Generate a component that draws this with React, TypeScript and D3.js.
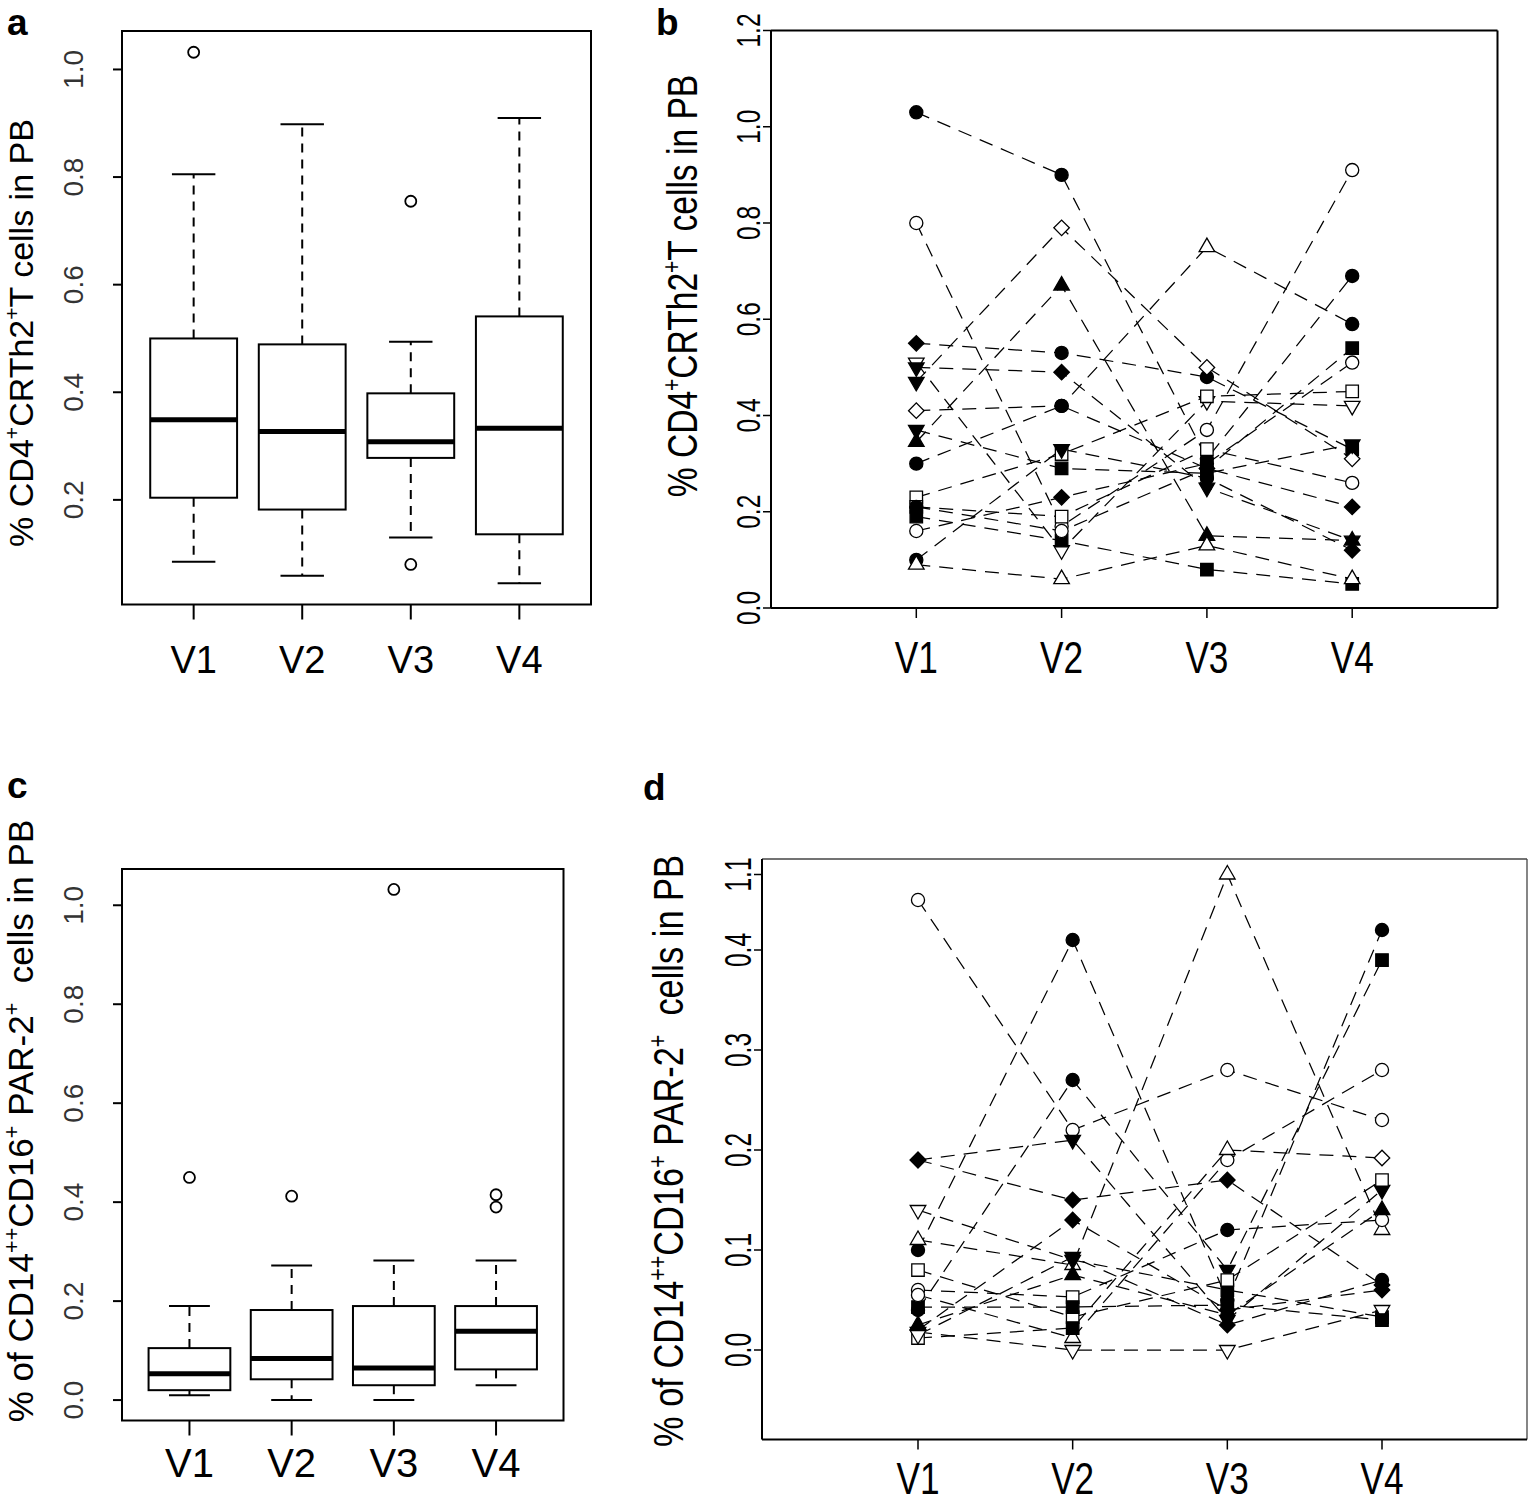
import React from "react";
import * as d3 from "d3";

// ---------------- DATA ----------------
const VISITS = ["V1", "V2", "V3", "V4"];

// Panel a: boxplot statistics (CD4+CRTh2+ T cells)
const aLow = [0.085, 0.059, 0.13, 0.045];
const aQ1 = [0.204, 0.182, 0.278, 0.136];
const aMed = [0.349, 0.327, 0.308, 0.333];
const aQ3 = [0.5, 0.489, 0.398, 0.541];
const aHigh = [0.805, 0.898, 0.494, 0.91];
const aOutliers = [[1.032], [], [0.755, 0.08], []];
const aYTicks = [0.2, 0.4, 0.6, 0.8, 1.0];

// Panel c: boxplot statistics (CD14++CD16+ PAR-2+)
const cLow = [0.01, 0.0, 0.0, 0.03];
const cQ1 = [0.02, 0.042, 0.03, 0.062];
const cMed = [0.053, 0.084, 0.065, 0.139];
const cQ3 = [0.105, 0.182, 0.19, 0.19];
const cHigh = [0.19, 0.272, 0.282, 0.282];
const cOutliers = [[0.45], [0.412], [1.032], [0.415, 0.39]];
const cYTicks = [0.0, 0.2, 0.4, 0.6, 0.8, 1.0];

// Panel b: individual trajectories (value per visit) and marker codes
// marker code: f/o = filled/open ; c circle, s square, d diamond, u triangle up, v triangle down
const bValues: number[][] = [
  [1.03, 0.9, 0.31, 0.69],
  [0.8, 0.17, 0.37, 0.91],
  [0.55, 0.53, 0.48, 0.33],
  [0.51, 0.12, 0.43, 0.42],
  [0.5, 0.49, 0.25, 0.14],
  [0.47, 0.79, 0.5, 0.31],
  [0.41, 0.42, 0.75, 0.59],
  [0.37, 0.29, 0.28, 0.34],
  [0.345, 0.67, 0.15, 0.14],
  [0.3, 0.42, 0.29, 0.21],
  [0.23, 0.32, 0.44, 0.45],
  [0.21, 0.19, 0.33, 0.26],
  [0.19, 0.14, 0.08, 0.05],
  [0.16, 0.23, 0.3, 0.51],
  [0.1, 0.33, 0.27, 0.12],
  [0.09, 0.06, 0.13, 0.06],
  [0.21, 0.16, 0.29, 0.54],
];
const bMarks: string[][] = [
  ["fc", "fc", "fc", "fc"],
  ["oc", "oc", "oc", "oc"],
  ["fd", "fc", "fc", "fs"],
  ["ov", "ov", "ov", "ov"],
  ["fv", "fd", "fv", "fv"],
  ["fv", "od", "od", "od"],
  ["od", "fc", "ou", "fc"],
  ["fv", "fs", "fs", "fv"],
  ["fu", "fu", "fu", "fu"],
  ["fc", "fc", "fd", "fd"],
  ["os", "os", "os", "os"],
  ["os", "os", "os", "oc"],
  ["fs", "fs", "fs", "fs"],
  ["oc", "fd", "fc", "oc"],
  ["fc", "fv", "fc", "fd"],
  ["ou", "ou", "ou", "ou"],
  ["fc", "oc", "fc", "fs"],
];
const bYTicks = [0.0, 0.2, 0.4, 0.6, 0.8, 1.0, 1.2];

// Panel d: individual trajectories
const dValues: number[][] = [
  [0.45, 0.22, 0.28, 0.23],
  [0.1, 0.41, 0.05, 0.42],
  [0.11, 0.085, 1.1, 0.12],
  [0.19, 0.15, 0.17, 0.065],
  [0.19, 0.21, 0.03, 0.16],
  [0.04, 0.27, 0.08, 0.39],
  [0.14, 0.09, 0.06, 0.033],
  [0.02, 0.13, 0.04, 0.06],
  [0.06, 0.053, 0.12, 0.13],
  [0.018, 0.0, 0.0, 0.04],
  [0.08, 0.033, 0.07, 0.17],
  [0.025, 0.075, 0.035, 0.14],
  [0.043, 0.043, 0.045, 0.03],
  [0.055, 0.012, 0.19, 0.28],
  [0.012, 0.022, 0.2, 0.192],
  [0.015, 0.093, 0.025, 0.07],
];
const dMarks: string[][] = [
  ["oc", "oc", "oc", "oc"],
  ["fc", "fc", "fc", "fc"],
  ["ou", "ou", "ou", "ou"],
  ["fd", "fd", "fd", "fd"],
  ["fd", "fv", "fv", "fv"],
  ["fc", "fc", "fv", "fs"],
  ["ov", "fv", "fs", "fs"],
  ["fd", "fd", "fd", "fd"],
  ["oc", "os", "fc", "oc"],
  ["ov", "ov", "ov", "ov"],
  ["os", "os", "os", "os"],
  ["fu", "fu", "fc", "fu"],
  ["fs", "fs", "fs", "fs"],
  ["oc", "ou", "oc", "oc"],
  ["os", "fs", "ou", "od"],
  ["ov", "fv", "fd", "fc"],
];
const dYTicks = [0.0, 0.1, 0.2, 0.3, 0.4, 1.1];

const titleCD4: [string, boolean][] = [
  ["% CD4", false],
  ["+", true],
  ["CRTh2", false],
  ["+", true],
  ["T cells in PB", false],
];
const titleCD14: [string, boolean][] = [
  ["% of CD14", false],
  ["++", true],
  ["CD16", false],
  ["+", true],
  [" PAR-2", false],
  ["+", true],
  ["  cells in PB", false],
];

// ---------------- HELPERS ----------------
const FONT = "'Liberation Sans', Arial, Helvetica, sans-serif";

function TText(props: {
  x: number;
  y: number;
  rot?: number;
  k?: number;
  size: number;
  anchor?: string;
  weight?: string | number;
  fill?: string;
  children: any;
}) {
  const { x, y, rot, k = 1, size, anchor = "middle", weight = "normal", fill = "#000" } = props;
  let t = `translate(${x},${y})`;
  if (rot) t += ` rotate(${rot})`;
  if (k !== 1) t += ` scale(${k},1)`;
  return (
    <text
      transform={t}
      fontSize={size}
      fontFamily={FONT}
      textAnchor={anchor}
      fontWeight={weight}
      fill={fill}
      style={{ whiteSpace: "pre" }}
    >
      {props.children}
    </text>
  );
}

function SupTitle({ segs, size }: { segs: [string, boolean][]; size: number }) {
  const shift = size * 0.4;
  let prevSup = false;
  return (
    <>
      {segs.map(([s, sup], i) => {
        let dy = 0;
        if (sup && !prevSup) dy = -shift;
        if (!sup && prevSup) dy = shift;
        prevSup = sup;
        return (
          <tspan key={i} dy={dy} fontSize={sup ? size * 0.62 : size}>
            {s}
          </tspan>
        );
      })}
    </>
  );
}

function Marker({ code, x, y }: { code: string; x: number; y: number }) {
  const filled = code[0] === "f";
  const shape = code[1];
  let type: any = d3.symbolCircle;
  let size = 135;
  let rot = 0;
  if (shape === "s") {
    type = d3.symbolSquare;
    size = 155;
  } else if (shape === "d") {
    type = d3.symbolSquare;
    size = 120;
    rot = 45;
  } else if (shape === "u") {
    type = d3.symbolTriangle;
    size = 105;
  } else if (shape === "v") {
    type = d3.symbolTriangle;
    size = 105;
    rot = 180;
  }
  const p = d3.symbol().type(type).size(size)() as string;
  return (
    <path
      d={p}
      transform={`translate(${x},${y}) rotate(${rot})`}
      fill={filled ? "#000" : "#fff"}
      stroke="#000"
      strokeWidth={1.3}
    />
  );
}

// ---------------- BOXPLOT PANEL ----------------
function BoxPanel(p: {
  x0: number;
  x1: number;
  y0: number;
  y1: number;
  low: number[];
  q1: number[];
  med: number[];
  q3: number[];
  high: number[];
  outliers: number[][];
  yTicks: number[];
  labelY: number;
  labelSize: number;
}) {
  const all = [...p.low, ...p.high, ...p.outliers.flat()];
  const mn = d3.min(all) as number;
  const mx = d3.max(all) as number;
  const pad = (mx - mn) * 0.04;
  const y = d3.scaleLinear().domain([mn - pad, mx + pad]).range([p.y1, p.y0]);
  const x = d3.scaleLinear().domain([0.5 - 0.16, 4.5 + 0.16]).range([p.x0, p.x1]);
  const unit = x(2) - x(1);
  const bw = unit * 0.8;
  const sw = bw * 0.5;
  return (
    <g>
      {VISITS.map((v, i) => {
        const cx = x(i + 1);
        return (
          <g key={v}>
            <line x1={cx} x2={cx} y1={y(p.q3[i])} y2={y(p.high[i])} stroke="#000" strokeWidth={2} strokeDasharray="9,7" />
            <line x1={cx} x2={cx} y1={y(p.q1[i])} y2={y(p.low[i])} stroke="#000" strokeWidth={2} strokeDasharray="9,7" />
            <line x1={cx - sw / 2} x2={cx + sw / 2} y1={y(p.high[i])} y2={y(p.high[i])} stroke="#000" strokeWidth={2} />
            <line x1={cx - sw / 2} x2={cx + sw / 2} y1={y(p.low[i])} y2={y(p.low[i])} stroke="#000" strokeWidth={2} />
            <rect x={cx - bw / 2} y={y(p.q3[i])} width={bw} height={y(p.q1[i]) - y(p.q3[i])} fill="#fff" stroke="#000" strokeWidth={2} />
            <line x1={cx - bw / 2} x2={cx + bw / 2} y1={y(p.med[i])} y2={y(p.med[i])} stroke="#000" strokeWidth={5} />
            {p.outliers[i].map((o, j) => (
              <circle key={j} cx={cx} cy={y(o)} r={5.5} fill="none" stroke="#000" strokeWidth={1.8} />
            ))}
            <line x1={cx} x2={cx} y1={p.y1} y2={p.y1 + 15} stroke="#000" strokeWidth={2} />
            <TText x={cx} y={p.labelY} size={p.labelSize}>
              {v}
            </TText>
          </g>
        );
      })}
      {p.yTicks.map((t) => (
        <g key={t}>
          <line x1={p.x0 - 9} x2={p.x0} y1={y(t)} y2={y(t)} stroke="#000" strokeWidth={2} />
          <TText x={p.x0 - 39} y={y(t)} rot={-90} size={28} fill="#333">
            {t.toFixed(1)}
          </TText>
        </g>
      ))}
      <rect x={p.x0} y={p.y0} width={p.x1 - p.x0} height={p.y1 - p.y0} fill="none" stroke="#000" strokeWidth={2} />
    </g>
  );
}

// ---------------- SPAGHETTI PANEL ----------------
function LinePanel(p: {
  x0: number;
  x1: number;
  y0: number;
  y1: number;
  x: d3.ScaleLinear<number, number>;
  y: d3.ScaleLinear<number, number>;
  values: number[][];
  marks: string[][];
  yTicks: number[];
  tickSize: number;
  tickK: number;
  tickX: number;
  vSize: number;
  vK: number;
  vY: number;
  frameTop: string;
  frameTopW: number;
}) {
  const line = d3
    .line<number>()
    .x((_, i) => p.x(i + 1))
    .y((d) => p.y(d));
  return (
    <g>
      <line x1={p.x0} x2={p.x1} y1={p.y0} y2={p.y0} stroke={p.frameTop} strokeWidth={p.frameTopW} />
      <line x1={p.x1} x2={p.x1} y1={p.y0} y2={p.y1} stroke={p.frameTop} strokeWidth={p.frameTopW} />
      {p.values.map((s, i) => (
        <path key={i} d={line(s) as string} fill="none" stroke="#000" strokeWidth={1.25} strokeDasharray="14,9" />
      ))}
      {p.values.map((s, i) =>
        s.map((v, j) => <Marker key={i + "-" + j} code={p.marks[i][j]} x={p.x(j + 1)} y={p.y(v)} />)
      )}
      <line x1={p.x0} x2={p.x1} y1={p.y1} y2={p.y1} stroke="#000" strokeWidth={2.2} />
      <line x1={p.x0} x2={p.x0} y1={p.y0} y2={p.y1} stroke="#000" strokeWidth={2} />
      {VISITS.map((v, i) => (
        <g key={v}>
          <line x1={p.x(i + 1)} x2={p.x(i + 1)} y1={p.y1} y2={p.y1 + 10} stroke="#000" strokeWidth={1.5} />
          <TText x={p.x(i + 1)} y={p.vY} size={p.vSize} k={p.vK}>
            {v}
          </TText>
        </g>
      ))}
      {p.yTicks.map((t) => (
        <g key={t}>
          <line x1={p.x0 - 8} x2={p.x0} y1={p.y(t)} y2={p.y(t)} stroke="#000" strokeWidth={1.5} />
          <TText x={p.tickX} y={p.y(t)} rot={-90} size={p.tickSize} k={p.tickK}>
            {t.toFixed(1)}
          </TText>
        </g>
      ))}
    </g>
  );
}

// ---------------- APP ----------------
export default function App() {
  const xb = d3.scaleLinear().domain([0, 5]).range([771, 1497.5]);
  const yb = d3.scaleLinear().domain([0, 1.2]).range([608, 30.5]);
  const xd = d3.scaleLinear().domain([1, 4]).range([918, 1382]);
  const yd = d3.scaleLinear().domain([-0.0895, 0.46, 1.1]).range([1439.5, 890, 874.5]);

  return (
    <svg
      width={1536}
      height={1504}
      viewBox="0 0 1536 1504"
      style={{ position: "absolute", left: 0, top: 0, background: "#fff" }}
    >
      <rect x={0} y={0} width={1536} height={1504} fill="#fff" />

      {/* Panel letters */}
      <TText x={7} y={35} size={37} anchor="start" weight="bold">a</TText>
      <TText x={656} y={35} size={37} anchor="start" weight="bold">b</TText>
      <TText x={7} y={798} size={37} anchor="start" weight="bold">c</TText>
      <TText x={643} y={800} size={37} anchor="start" weight="bold">d</TText>

      {/* Panel a */}
      <BoxPanel
        x0={122}
        x1={591}
        y0={31}
        y1={604.5}
        low={aLow}
        q1={aQ1}
        med={aMed}
        q3={aQ3}
        high={aHigh}
        outliers={aOutliers}
        yTicks={aYTicks}
        labelY={673}
        labelSize={38}
      />
      <TText x={33} y={333} rot={-90} size={34}>
        <SupTitle segs={titleCD4} size={34} />
      </TText>

      {/* Panel c */}
      <BoxPanel
        x0={122}
        x1={563.5}
        y0={869}
        y1={1420.5}
        low={cLow}
        q1={cQ1}
        med={cMed}
        q3={cQ3}
        high={cHigh}
        outliers={cOutliers}
        yTicks={cYTicks}
        labelY={1477}
        labelSize={40}
      />
      <TText x={33} y={1121} rot={-90} size={35}>
        <SupTitle segs={titleCD14} size={35} />
      </TText>

      {/* Panel b */}
      <LinePanel
        x0={771}
        x1={1497.5}
        y0={30.5}
        y1={608}
        x={xb}
        y={yb}
        values={bValues}
        marks={bMarks}
        yTicks={bYTicks}
        tickSize={34}
        tickK={0.72}
        tickX={760}
        vSize={44}
        vK={0.8}
        vY={673}
        frameTop="#000"
        frameTopW={2}
      />
      <TText x={697} y={286} rot={-90} size={42} k={0.8}>
        <SupTitle segs={titleCD4} size={42} />
      </TText>

      {/* Panel d */}
      <LinePanel
        x0={762}
        x1={1527}
        y0={859}
        y1={1439.5}
        x={xd}
        y={yd}
        values={dValues}
        marks={dMarks}
        yTicks={dYTicks}
        tickSize={36}
        tickK={0.68}
        tickX={751}
        vSize={44}
        vK={0.8}
        vY={1494}
        frameTop="#444"
        frameTopW={1.3}
      />
      <TText x={683} y={1151} rot={-90} size={43} k={0.8}>
        <SupTitle segs={titleCD14} size={43} />
      </TText>
    </svg>
  );
}
